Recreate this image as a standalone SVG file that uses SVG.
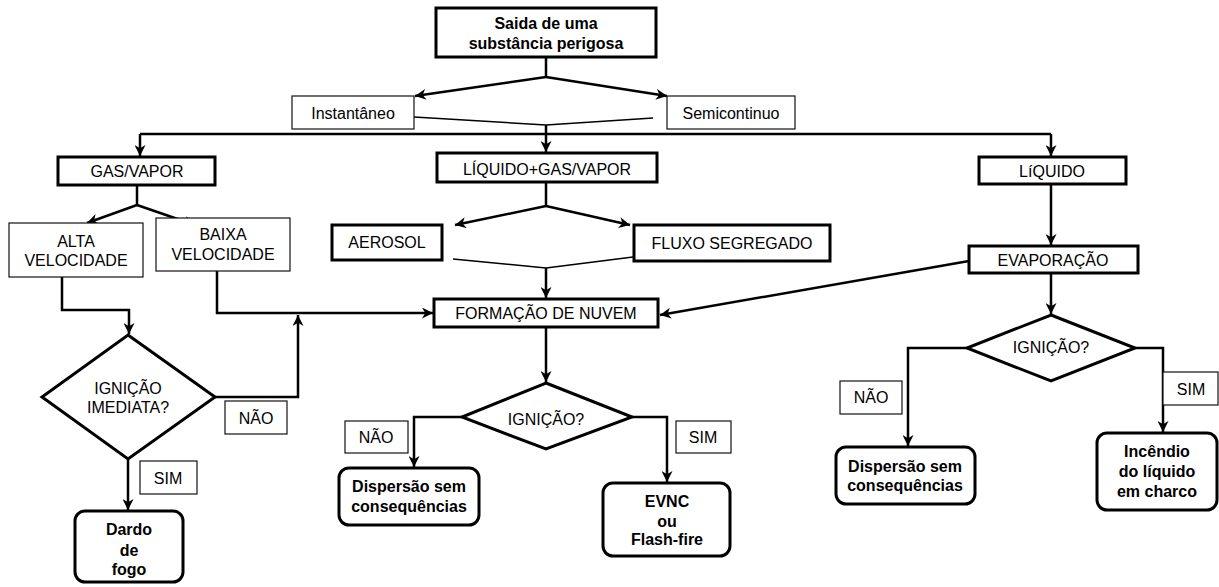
<svg xmlns="http://www.w3.org/2000/svg" width="1219" height="587" viewBox="0 0 1219 587">
<style>
.thick{fill:#fff;stroke:#000;stroke-width:3}
.thin{fill:#fff;stroke:#111;stroke-width:1.2}
.round{fill:#fff;stroke:#000;stroke-width:3}
.dia{fill:#fff;stroke:#000;stroke-width:3}
.t{font-family:"Liberation Sans",Arial,sans-serif;font-size:16px;fill:#000;text-anchor:middle}
.b{font-family:"Liberation Sans",Arial,sans-serif;font-size:16px;font-weight:bold;fill:#000;text-anchor:middle}
.c{fill:none;stroke:#000;stroke-width:2.5}
.cl{fill:none;stroke:#000;stroke-width:1.5}
</style>
<defs>
<marker id="ah" viewBox="0 0 10 10" refX="10" refY="5" markerWidth="11" markerHeight="11" markerUnits="userSpaceOnUse" orient="auto">
<path d="M0,0 L10,5 L0,10 L3,5 z" fill="#000"/>
</marker>
</defs>
<g id="connectors">
<polyline class="c" points="546,57 546,77"/>
<line class="c" x1="546" y1="77" x2="415" y2="96" marker-end="url(#ah)"/>
<line class="c" x1="546" y1="77" x2="667" y2="96" marker-end="url(#ah)"/>
<line class="cl" x1="414" y1="117" x2="546" y2="125"/>
<line class="cl" x1="653" y1="118" x2="546" y2="125"/>
<line class="c" x1="546" y1="125" x2="546" y2="152" marker-end="url(#ah)"/>
<line class="c" x1="140" y1="134" x2="1051" y2="134"/>
<line class="c" x1="140" y1="134" x2="140" y2="156" marker-end="url(#ah)"/>
<line class="c" x1="1051" y1="134" x2="1051" y2="156" marker-end="url(#ah)"/>
<line class="c" x1="137" y1="185" x2="137" y2="205"/>
<line class="c" x1="137" y1="205" x2="87" y2="223" marker-end="url(#ah)"/>
<line class="c" x1="137" y1="205" x2="195" y2="225" marker-end="url(#ah)"/>
<line class="c" x1="546" y1="182" x2="546" y2="206"/>
<line class="c" x1="546" y1="206" x2="455" y2="225" marker-end="url(#ah)"/>
<line class="c" x1="546" y1="206" x2="630" y2="225" marker-end="url(#ah)"/>
<line class="cl" x1="453" y1="259" x2="546" y2="268"/>
<line class="cl" x1="633" y1="257" x2="546" y2="268"/>
<line class="c" x1="546" y1="268" x2="546" y2="298" marker-end="url(#ah)"/>
<polyline class="c" points="62,267 62,310 129,310 129,334" marker-end="url(#ah)"/>
<polyline class="c" points="217,263 217,313 433,313" marker-end="url(#ah)"/>
<polyline class="c" points="215,397 298,397 298,315" marker-end="url(#ah)"/>
<line class="c" x1="128" y1="459" x2="128" y2="510" marker-end="url(#ah)"/>
<line class="c" x1="1051" y1="184" x2="1051" y2="245" marker-end="url(#ah)"/>
<line class="c" x1="969" y1="261" x2="660" y2="315" marker-end="url(#ah)"/>
<line class="c" x1="1051" y1="273" x2="1051" y2="314" marker-end="url(#ah)"/>
<line class="c" x1="546" y1="327" x2="546" y2="382" marker-end="url(#ah)"/>
<polyline class="c" points="462,417 414,417 414,467" marker-end="url(#ah)"/>
<polyline class="c" points="632,417 667,417 667,482" marker-end="url(#ah)"/>
<polyline class="c" points="967,348 908,348 908,446" marker-end="url(#ah)"/>
<polyline class="c" points="1135,348 1163,348 1163,432" marker-end="url(#ah)"/>
</g>
<g id="n-saida"><rect class="thick" x="436" y="8" width="220" height="49"/><text class="b" x="546" y="29">Saida de uma</text><text class="b" x="546" y="49">substância perigosa</text></g>
<g id="n-instantaneo"><rect class="thin" x="292" y="96" width="122" height="33"/><text class="t" x="353" y="119">Instantâneo</text></g>
<g id="n-semicontinuo"><rect class="thin" x="667" y="96" width="128" height="33"/><text class="t" x="731" y="119">Semicontinuo</text></g>
<g id="n-gasvapor"><rect class="thick" x="58" y="157" width="157" height="28"/><text class="t" x="137" y="177">GAS/VAPOR</text></g>
<g id="n-liqgas"><rect class="thick" x="437" y="153" width="220" height="29"/><text class="t" x="547" y="175">LÍQUIDO+GAS/VAPOR</text></g>
<g id="n-liquido"><rect class="thick" x="979" y="157" width="147" height="27"/><text class="t" x="1052" y="177">LíQUIDO</text></g>
<g id="n-alta"><rect class="thin" x="9" y="223" width="134" height="54"/><text class="t" x="76" y="247">ALTA</text><text class="t" x="76" y="266">VELOCIDADE</text></g>
<g id="n-baixa"><rect class="thin" x="156" y="218" width="134" height="53"/><text class="t" x="223" y="240">BAIXA</text><text class="t" x="223" y="260">VELOCIDADE</text></g>
<g id="n-aerosol"><rect class="thick" x="332" y="225" width="110" height="35"/><text class="t" x="387" y="248">AEROSOL</text></g>
<g id="n-fluxo"><rect class="thick" x="634" y="225" width="196" height="36"/><text class="t" x="732" y="249">FLUXO SEGREGADO</text></g>
<g id="n-evaporacao"><rect class="thick" x="969" y="246" width="169" height="27"/><text class="t" x="1053" y="266">EVAPORAÇÃO</text></g>
<g id="n-formacao"><rect class="thick" x="434" y="299" width="224" height="28"/><text class="t" x="546" y="319">FORMAÇÃO DE NUVEM</text></g>
<g id="n-ign-imediata"><polygon class="dia" points="128,335 215,397 128,459 42,397"/><text class="t" x="128" y="394">IGNIÇÃO</text><text class="t" x="128" y="413">IMEDIATA?</text></g>
<g id="n-nao1"><rect class="thin" x="225" y="401" width="62" height="33"/><text class="t" x="256" y="424">NÃO</text></g>
<g id="n-sim1"><rect class="thin" x="140" y="461" width="57" height="33"/><text class="t" x="168" y="484">SIM</text></g>
<g id="n-dardo"><rect class="round" x="75" y="511" width="108" height="71" rx="10"/><text class="b" x="129" y="535">Dardo</text><text class="b" x="129" y="556">de</text><text class="b" x="129" y="575">fogo</text></g>
<g id="n-ign2"><polygon class="dia" points="546,383 632,417 546,449 462,417"/><text class="t" x="546" y="425">IGNIÇÃO?</text></g>
<g id="n-nao2"><rect class="thin" x="345" y="421" width="63" height="32"/><text class="t" x="376" y="443">NÃO</text></g>
<g id="n-sim2"><rect class="thin" x="676" y="421" width="55" height="32"/><text class="t" x="703" y="443">SIM</text></g>
<g id="n-disp1"><rect class="round" x="339" y="468" width="140" height="57" rx="10"/><text class="b" x="409" y="492">Dispersão sem</text><text class="b" x="409" y="512">consequências</text></g>
<g id="n-evnc"><rect class="round" x="603" y="483" width="127" height="73" rx="10"/><text class="b" x="667" y="507">EVNC</text><text class="b" x="667" y="527">ou</text><text class="b" x="667" y="545">Flash-fire</text></g>
<g id="n-ign3"><polygon class="dia" points="1051,315 1135,348 1051,381 967,348"/><text class="t" x="1051" y="353">IGNIÇÃO?</text></g>
<g id="n-nao3"><rect class="thin" x="840" y="381" width="62" height="33"/><text class="t" x="871" y="403">NÃO</text></g>
<g id="n-sim3"><rect class="thin" x="1163" y="372" width="55" height="33"/><text class="t" x="1191" y="395">SIM</text></g>
<g id="n-disp2"><rect class="round" x="836" y="447" width="139" height="57" rx="10"/><text class="b" x="905" y="472">Dispersão sem</text><text class="b" x="905" y="491">consequências</text></g>
<g id="n-incendio"><rect class="round" x="1097" y="433" width="120" height="77" rx="10"/><text class="b" x="1157" y="457">Incêndio</text><text class="b" x="1157" y="477">do líquido</text><text class="b" x="1157" y="497">em charco</text></g>
</svg>
